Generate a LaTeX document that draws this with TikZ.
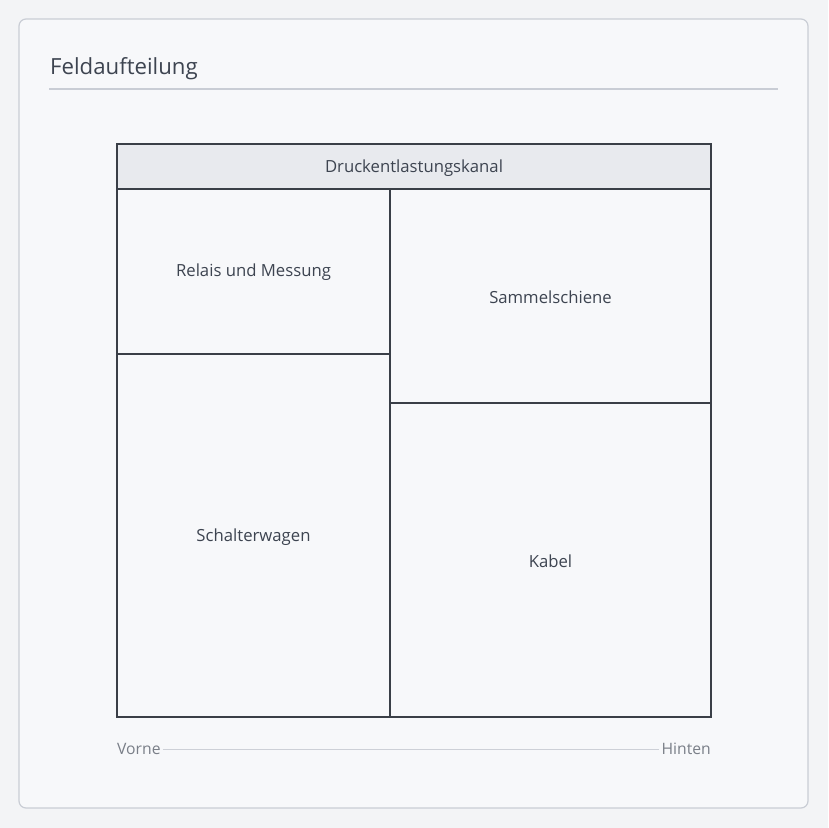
\documentclass[tikz,border=0pt]{standalone}
\usepackage{fontspec}
\setmainfont{Open Sans}
\definecolor{pagebg}{HTML}{F3F4F6}
\definecolor{cardbg}{HTML}{F7F8FA}
\definecolor{cardline}{HTML}{C9CDD5}
\definecolor{boxline}{HTML}{3A3F47}
\definecolor{headfill}{HTML}{E8EAEE}
\definecolor{txt}{HTML}{3D4450}
\definecolor{axtxt}{HTML}{7A7F88}
\definecolor{axline}{HTML}{CDD0D7}
\tikzset{
  lbl/.style={font=\fontsize{16.7}{20}\selectfont, text=txt, inner sep=0pt},
  axlbl/.style={font=\fontsize{15.7}{19}\selectfont, text=axtxt, inner sep=0pt},
  divider/.style={draw=boxline, line width=1.4pt},
}
\begin{document}
\begin{tikzpicture}[x=1pt,y=-1pt]
\useasboundingbox (0,0) rectangle (828,828);
\fill[pagebg] (0,0) rectangle (828,828);
\draw[cardline, fill=cardbg, line width=1.2pt, rounded corners=7pt] (19,19) rectangle (808,808);
\node[anchor=base west, font=\fontsize{22.2}{26}\selectfont, text=txt, inner sep=0pt] (title) at (50,74) {Feldaufteilung};
\draw[cardline, line width=1.2pt] (49,89) -- (778,89);
% header
\fill[headfill] (117,144) rectangle (711,189);
\coordinate (tl) at (117,144);
\coordinate (br) at (711,717);
\draw[divider] (117,189) -- (711,189);
\draw[divider] (390,189) -- (390,717);
\draw[divider] (117,354) -- (390,354);
\draw[divider] (390,403) -- (711,403);
\draw[draw=boxline, line width=2pt] (tl) rectangle (br);
\node[lbl] (kanal) at (414,168) {Druckentlastungskanal};
\node[lbl] (relais) at (253.5,272) {Relais und Messung};
\node[lbl] (sammel) at (550.5,297) {Sammelschiene};
\node[lbl] (schalter) at (253.5,537) {Schalterwagen};
\node[lbl] (kabel) at (550.5,561) {Kabel};
% axis
\node[axlbl, anchor=west] (vorne) at (117,749) {Vorne};
\node[axlbl, anchor=east] (hinten) at (711,749) {Hinten};
\draw[axline, line width=1pt] ([xshift=2pt]vorne.east) -- ([xshift=-2pt]hinten.west);
\end{tikzpicture}
\end{document}
